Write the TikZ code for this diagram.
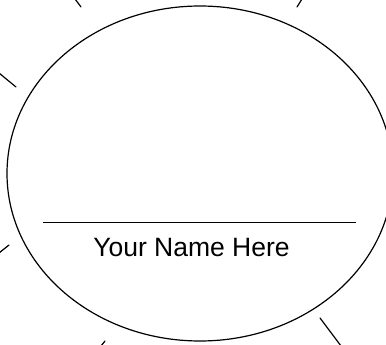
\documentclass[tikz,border=0pt]{standalone}
\usepackage{fontspec}
\setmainfont{Liberation Sans}
\begin{document}
\begin{tikzpicture}[x=1pt,y=-1pt,
  ray/.style={line width=1.2pt, line cap=round},
  rim/.style={line width=1.2pt},
  nameline/.style={line width=1.4pt},
  nametext/.style={font=\fontsize{26.5}{30}\selectfont, inner sep=0pt, anchor=base}]
\useasboundingbox (0,0) rectangle (386,345);
\begin{scope}
\clip (0,0) rectangle (386,345);
\draw[rim] (200,173.5) ellipse [x radius=193, y radius=167.5];
% rays
\draw[ray] (75,-1) -- (81,7);
\draw[ray] (302,-1) -- (297,7);
\draw[ray] (-1,73) -- (16,87);
\draw[ray] (-1,253) -- (9,245);
\draw[ray] (101,346) -- (105,341);
\draw[ray] (320,318) -- (341,346);
\end{scope}
\coordinate (la) at (43,222.7);
\coordinate (lb) at (356,222.7);
\draw[nameline] (la) -- (lb);
\node[nametext] (name) at (191.5,256) {Your Name Here};
\end{tikzpicture}
\end{document}
